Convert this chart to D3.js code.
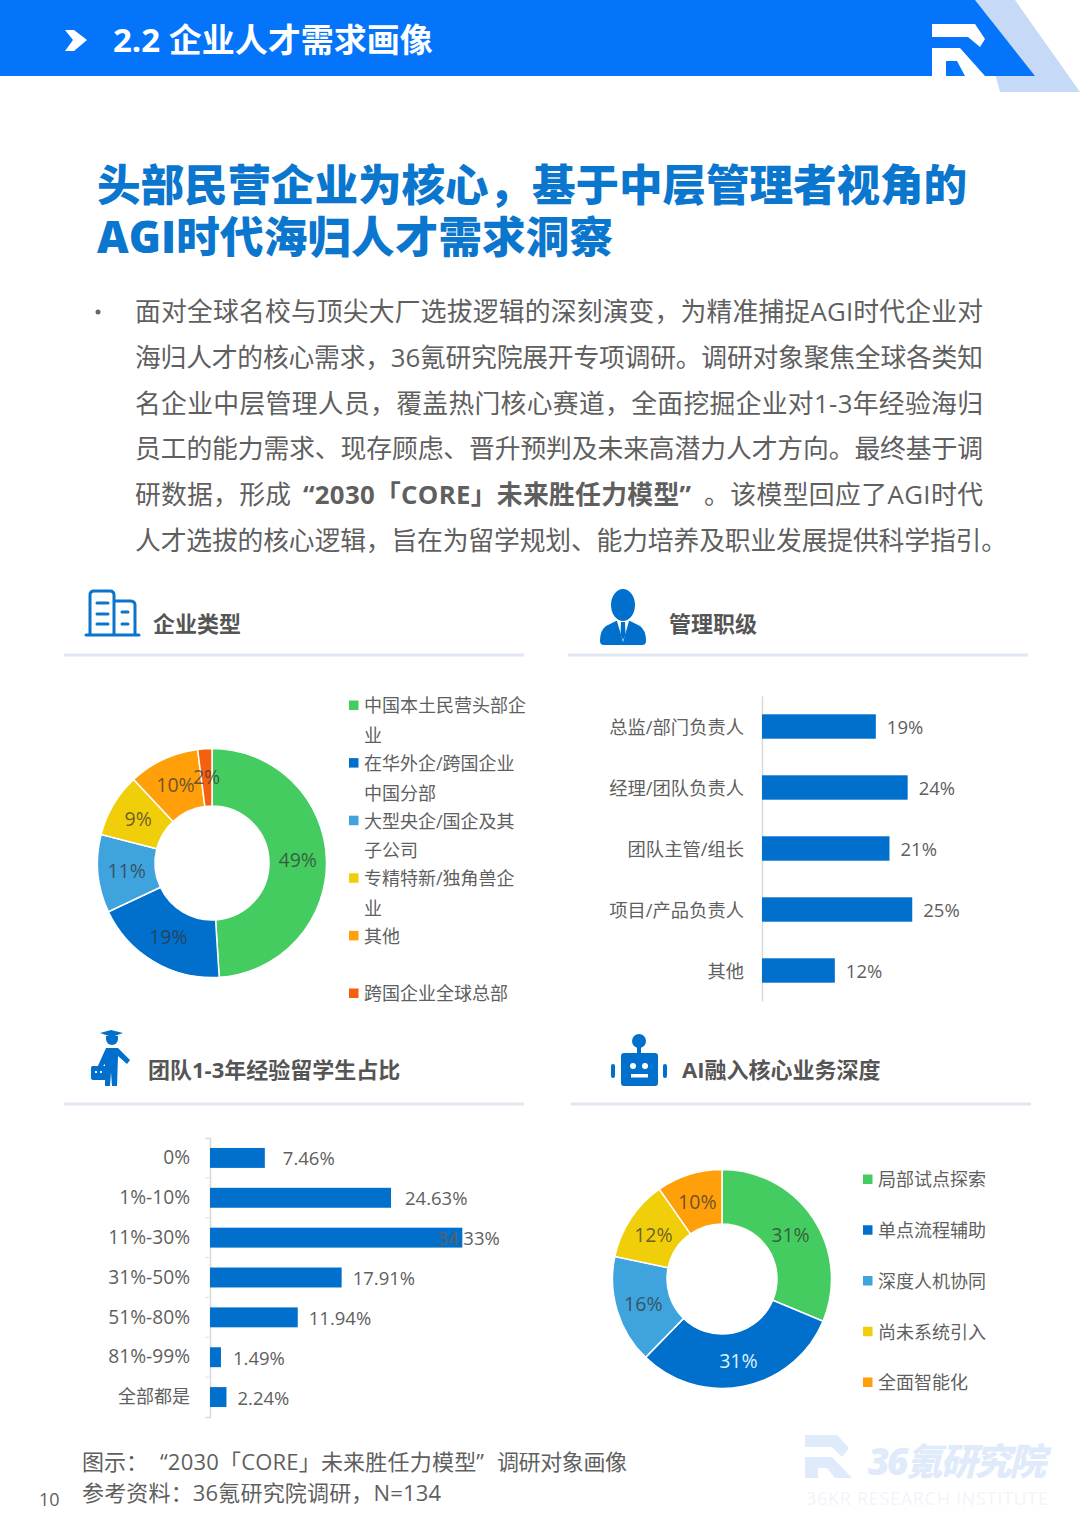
<!DOCTYPE html>
<html>
<head>
<meta charset="utf-8">
<script src="https://cdn.jsdelivr.net/npm/d3@7/dist/d3.min.js"></script>
<style>
html, body { margin: 0; padding: 0; background: #fff; }
svg { display: block; }
text { font-family: "Open Sans", "Noto Sans CJK SC", sans-serif; }
</style>
</head>
<body>
<svg id="page" width="1080" height="1527" viewBox="0 0 1080 1527"></svg>
<script>
// data
var companyTypes = ['中国本土民营头部企业', '在华外企/跨国企业中国分部', '大型央企/国企及其子公司', '专精特新/独角兽企业', '其他', '跨国企业全球总部'];
var companyShares = [49, 19, 11, 9, 10, 2];
var levelNames = ['总监/部门负责人', '经理/团队负责人', '团队主管/组长', '项目/产品负责人', '其他'];
var levelShares = [18.66, 23.88, 20.9, 24.63, 11.94];
var teamBuckets = ['0%', '1%-10%', '11%-30%', '31%-50%', '51%-80%', '81%-99%', '全部都是'];
var teamShares = [7.46, 24.63, 34.33, 17.91, 11.94, 1.49, 2.24];
var depthNames = ['局部试点探索', '单点流程辅助', '深度人机协同', '尚未系统引入', '全面智能化'];
var depthShares = [31.3, 31, 16, 12, 9.7];
var titleLines = ['头部民营企业为核心，基于中层管理者视角的', 'AGI时代海归人才需求洞察'];
var bodyLines = [
    ['面对全球名校与顶尖大厂选拔逻辑的深刻演变，为精准捕捉AGI时代企业对'],
    ['海归人才的核心需求，36氪研究院展开专项调研。调研对象聚焦全球各类知'],
    ['名企业中层管理人员，覆盖热门核心赛道，全面挖掘企业对1-3年经验海归'],
    ['员工的能力需求、现存顾虑、晋升预判及未来高潜力人才方向。最终基于调'],
    ['研数据，形成', '“2030「CORE」未来胜任力模型”', '。该模型回应了AGI时代'],
    ['人才选拔的核心逻辑，旨在为留学规划、能力培养及职业发展提供科学指引。']
];
var captionParts = ['图示：', '“2030「CORE」未来胜任力模型”', '调研对象画像'];
var sourceText = '参考资料：36氪研究院调研，N=134';

var BLUE = '#0070cc';
var TEXT = '#5f5f5f';
var sliceColors = ['#44cc60', '#0070cc', '#3fa3de', '#f0cf0a', '#ff9f0a', '#f5600f'];

var svg = d3.select('#page');
svg.append('rect').attr('width', 1080).attr('height', 1527).attr('fill', '#fff');

function fitted(x, y, width, size, str) {
    return svg.append('text')
        .attr('x', x).attr('y', y)
        .attr('textLength', width).attr('lengthAdjust', 'spacing')
        .attr('font-size', size).attr('fill', TEXT)
        .text(str);
}

function draw_header() {
    svg.append('path').attr('d', 'M975,0H1015L1080,92H1000Z').attr('fill', '#c6d9f7');
    svg.append('path').attr('d', 'M0,0H975L1035,76H0Z').attr('fill', '#0475fb');
    svg.append('path').attr('d', 'M65,30H74L87,40L74,51H65L73,40Z').attr('fill', '#fff');
    svg.append('path')
        .attr('d', 'M932,24H975L985,39L980,47L968,37H932ZM932,48H960L985,76H965L957,61H946V76H932Z')
        .attr('fill', '#fff');
    svg.append('text').attr('x', 113).attr('y', 52)
        .attr('font-size', 33).attr('font-weight', 700).attr('fill', '#fff')
        .text('2.2 企业人才需求画像');
    var titleWidths = [870, 516];
    titleLines.forEach(function (d, i) {
        fitted(97, 201 + i * 52, titleWidths[i], 43.6, d)
            .attr('font-weight', 900).attr('fill', '#0b76ce');
    });
    svg.append('circle').attr('cx', 98).attr('cy', 312).attr('r', 2.5).attr('fill', '#666');
    // left edge and width of each run of body text
    var bodyLayout = [
        [[135, 848]], [[135, 848]], [[135, 848]], [[135, 848]],
        [[135, 156], [303, 388], [704, 279]],
        [[135, 872]]
    ];
    bodyLines.forEach(function (runs, i) {
        runs.forEach(function (d, j) {
            fitted(bodyLayout[i][j][0], 321 + i * 45.8, bodyLayout[i][j][1], 25.8, d)
                .attr('font-weight', runs.length > 1 && j === 1 ? 700 : 400);
        });
    });
}

function draw_section(x1, x2, ruleY, titleX, titleY, title) {
    svg.append('rect').attr('x', x1).attr('y', ruleY - 1.5).attr('width', x2 - x1).attr('height', 3)
        .attr('fill', '#e0e7f3');
    svg.append('text').attr('x', titleX).attr('y', titleY)
        .attr('font-size', 22).attr('font-weight', 700).attr('fill', '#555')
        .text(title);
}

function draw_icons() {
    var ink = '#0b74cb';
    var b = svg.append('g').attr('fill', 'none').attr('stroke', ink).attr('stroke-width', 3).attr('stroke-linecap', 'round');
    b.append('path').attr('d', 'M86,635H139M90,635V595Q90,591 94,591H110Q114,591 114,595V635M114,601H130Q135,601 135,605V635');
    b.append('path').attr('d', 'M97,603H108M97,614H108M97,624H108M122,612H128M122,624H128');

    var p = svg.append('g').attr('fill', BLUE);
    p.append('ellipse').attr('cx', 623).attr('cy', 605).attr('rx', 12).attr('ry', 16);
    p.append('path').attr('d', 'M600,641Q600,630 606,626L616,621H630L640,626Q646,630 646,641Q646,645 642,645H604Q600,645 600,641Z');
    p.append('path').attr('d', 'M617,621L623,642L629,621Z').attr('fill', '#fff');
    p.append('path').attr('d', 'M621,622H625L625.5,635L623,640L620.5,635Z');

    var s = svg.append('g').attr('fill', BLUE);
    s.append('path').attr('d', 'M100,1033L111,1030L123,1033L112,1037Z');
    s.append('path').attr('d', 'M106,1036H118V1039A6,6 0 0 1 106,1039Z');
    s.append('path').attr('d', 'M106,1048H118L130,1060L127,1064L118,1056L117,1086H112L111,1072L110,1086H105L105,1064L99,1070L97,1068Z');
    s.append('rect').attr('x', 91).attr('y', 1066).attr('width', 16).attr('height', 14).attr('rx', 2);
    s.append('path').attr('d', 'M95,1071h2v2h-2zM100,1071h2v2h-2z').attr('fill', '#fff');

    var r = svg.append('g').attr('fill', BLUE);
    r.append('circle').attr('cx', 639).attr('cy', 1041).attr('r', 7);
    r.append('rect').attr('x', 637).attr('y', 1044).attr('width', 4).attr('height', 10);
    r.append('rect').attr('x', 621).attr('y', 1053).attr('width', 37).attr('height', 33).attr('rx', 3);
    r.append('rect').attr('x', 611).attr('y', 1064).attr('width', 4).attr('height', 14).attr('rx', 2);
    r.append('rect').attr('x', 663).attr('y', 1064).attr('width', 4).attr('height', 14).attr('rx', 2);
    r.append('circle').attr('cx', 633).attr('cy', 1066).attr('r', 3).attr('fill', '#fff');
    r.append('circle').attr('cx', 645).attr('cy', 1066).attr('r', 3).attr('fill', '#fff');
    r.append('rect').attr('x', 631).attr('y', 1074).attr('width', 17).attr('height', 3.5).attr('fill', '#fff');
}

function draw_donut(names, values, cx, cy, outer, inner, legendTop, legendBottom, legendX, labelDy) {
    var pie = d3.pie().sort(null)(values);
    var arc = d3.arc().innerRadius(inner).outerRadius(outer);
    var g = svg.append('g').attr('transform', 'translate(' + cx + ',' + cy + ')');
    g.selectAll('path').data(pie).enter().append('path')
        .attr('d', arc)
        .attr('fill', function (d, i) { return sliceColors[i]; })
        .attr('stroke', '#fff')
        .attr('stroke-width', 1.5);
    g.selectAll('text').data(pie).enter().append('text')
        .attr('class', 'slice-label')
        .attr('transform', function (d) { return 'translate(' + arc.centroid(d) + ')'; })
        .attr('text-anchor', 'middle')
        .attr('y', labelDy)
        .attr('dy', '0.35em')
        .attr('font-size', 19.5)
        .attr('fill', '#333')
        .attr('fill-opacity', 0.72)
        .text(function (d) { return Math.round(d.value) + '%'; });

    var y = d3.scalePoint().domain(names).range([legendTop, legendBottom]);
    var items = svg.selectAll(null).data(names).enter().append('g')
        .attr('transform', function (d) { return 'translate(' + legendX + ',' + y(d) + ')'; });
    items.append('rect').attr('x', 0).attr('y', -4.5).attr('width', 9.5).attr('height', 9.5)
        .attr('fill', function (d, i) { return sliceColors[i]; });
    items.each(function (name) {
        // legend text wraps at a fixed width, one extra row 30px down
        var t = d3.select(this).append('text').attr('y', 1).attr('font-size', 18).attr('fill', TEXT).attr('dy', '0.35em');
        var row = t.append('tspan').attr('x', 15);
        var cur = '';
        Array.from(name).forEach(function (ch) {
            row.text(cur + ch);
            if (row.node().getComputedTextLength() > 165) {
                row.text(cur);
                row = t.append('tspan').attr('x', 15).attr('dy', 30);
                cur = '';
                row.text(ch);
            }
            cur += ch;
        });
    });
}

function draw_bars(names, values, x0, pxPerUnit, top, bottom, padInner, padOuter, cjkSize, latinSize, tickPad, labelGap, edgeTicks, fmt) {
    var x = d3.scaleLinear().domain([0, 10]).range([x0, x0 + pxPerUnit * 10]);
    var y = d3.scaleBand().domain(names).range([top, bottom]).paddingInner(padInner).paddingOuter(padOuter);
    var axis = svg.append('g').attr('transform', 'translate(' + x0 + ',0)')
        .call(d3.axisLeft(y).tickSize(0).tickPadding(tickPad).tickSizeOuter(edgeTicks ? 5 : 0));
    axis.select('.domain').attr('stroke', '#d9d9d9').attr('stroke-width', 1.5);
    axis.selectAll('text')
        .attr('y', edgeTicks ? 0 : 1.5)
        .attr('font-size', function (d) { return /[\u4e00-\u9fff]/.test(d) ? cjkSize : latinSize; })
        .attr('fill', TEXT)
        .style('font-family', '"Open Sans", "Noto Sans CJK SC", sans-serif');
    if (edgeTicks) {
        svg.selectAll(null).data(names.slice(1)).enter().append('line')
            .attr('x1', x0 - 5).attr('x2', x0)
            .attr('y1', function (d) { return y(d) - y.step() * padInner / 2; })
            .attr('y2', function (d) { return y(d) - y.step() * padInner / 2; })
            .attr('stroke', '#e3e3e3');
    }
    svg.selectAll(null).data(values).enter().append('rect')
        .attr('x', x0)
        .attr('y', function (d, i) { return y(names[i]); })
        .attr('width', function (d) { return x(d) - x0; })
        .attr('height', y.bandwidth())
        .attr('fill', BLUE);
    svg.selectAll(null).data(values).enter().append('text')
        .attr('x', function (d, i) { return x(d) + labelGap[i]; })
        .attr('y', function (d, i) { return y(names[i]) + y.bandwidth() / 2 + 1; })
        .attr('dy', '0.35em')
        .attr('font-size', 18.5)
        .attr('fill', TEXT)
        .text(function (d) { return fmt(d) + '%'; });
}

function draw_footer() {
    var captionLayout = [[82, 66], [160, 324], [497, 130]];
    captionParts.forEach(function (d, i) {
        fitted(captionLayout[i][0], 1470, captionLayout[i][1], 22, d);
    });
    fitted(82, 1501, 359, 22, sourceText);
    svg.append('text').attr('x', 39).attr('y', 1506).attr('font-size', 18).attr('fill', TEXT).text('10');
    svg.append('path')
        .attr('d', 'M805,1435H837L849,1448L842,1457L832,1447H805ZM805,1457H832L852,1478H835L827,1468H818V1478H805Z')
        .attr('fill', '#dfeafb');
    fitted(868, 1475, 178, 37, '36氪研究院')
        .attr('font-weight', 900).attr('font-style', 'italic').attr('fill', '#dfeafb');
    fitted(806, 1505, 242, 18, '36KR RESEARCH INSTITUTE').attr('fill', '#f1f4fa');
}

draw_header();
draw_section(64, 524, 655, 153, 632, '企业类型');
draw_section(568, 1028, 655, 669, 632, '管理职级');
draw_section(64, 524, 1104, 148, 1078, '团队1-3年经验留学生占比');
draw_section(571, 1031, 1104, 682, 1078, 'AI融入核心业务深度');
draw_icons();
draw_donut(companyTypes, companyShares, 212, 863, 114.5, 57, 705, 993, 349, 0);
draw_donut(depthNames, depthShares, 722, 1279, 109.5, 55, 1179, 1382, 863, 1.5);
draw_bars(levelNames, levelShares, 762, 6.1, 696, 1001, 0.6, 0.3, 18.3, 18.3, 18, [11, 11, 11, 11, 11], false, d3.format('.0f'));
draw_bars(teamBuckets, teamShares, 210, 7.35, 1138, 1417, 0.5, 0.25, 18, 19.2, 20, [18, 14, -25, 11, 11, 12, 11], true, d3.format('.2f'));
// the 31% on the dark slice is the only light donut label
svg.selectAll('.slice-label').filter(function () { return this.textContent === '31%' && this.getCTM().f > 1320; })
    .attr('fill', '#dff0ff').attr('fill-opacity', 1);
draw_footer();
</script>
</body>
</html>
